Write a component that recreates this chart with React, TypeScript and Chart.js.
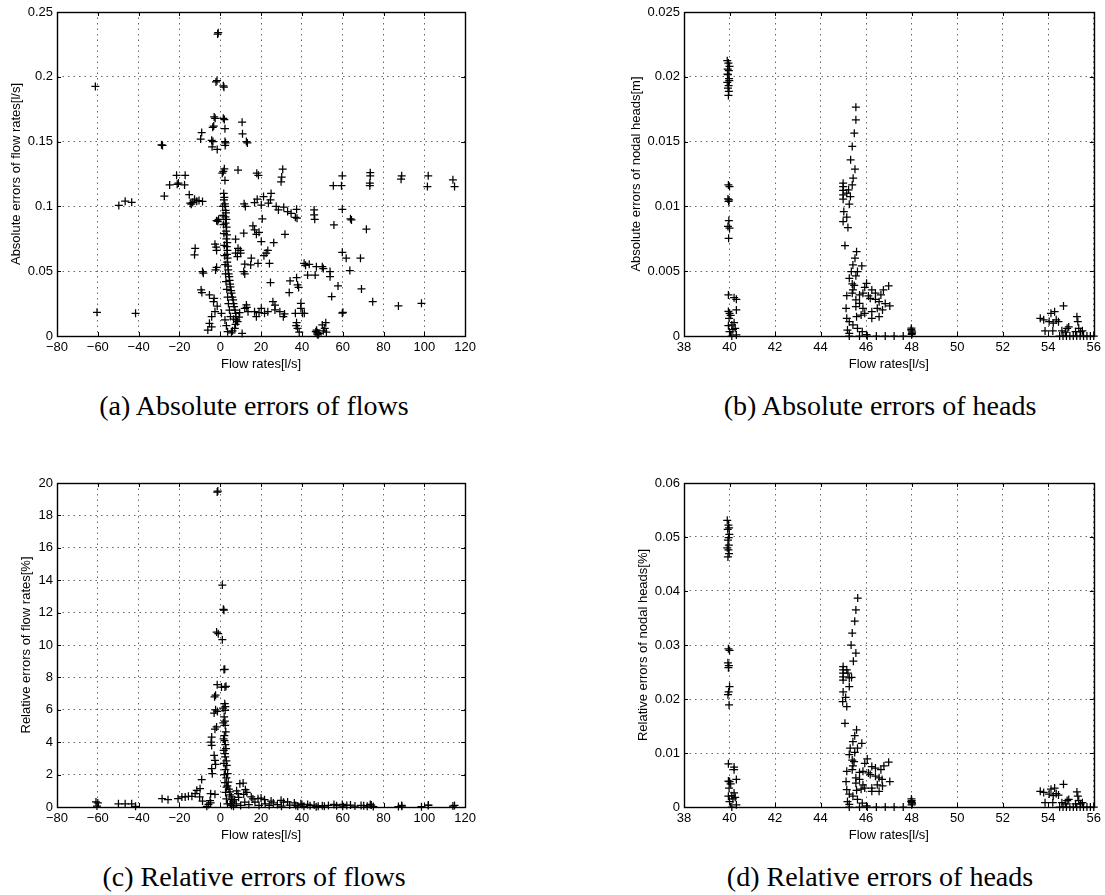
import React, { useEffect, useRef } from "react";
import { Chart, registerables } from "chart.js";

Chart.register(...registerables);

type Pt = [number, number];

// ---------- tick settings ----------
const flowTicksX = { min: -80, max: 120, step: 20 };
const headTicksX = { min: 38, max: 56, step: 2 };
const absFlowTicksY = { min: 0, max: 0.25, step: 0.05 };
const absHeadTicksY = { min: 0, max: 0.025, step: 0.005 };
const relFlowTicksY = { min: 0, max: 20, step: 2 };
const relHeadTicksY = { min: 0, max: 0.06, step: 0.01 };

const xTitle = "Flow rates[l/s]";
const yTitles = [
  "Absolute errors of flow rates[l/s]",
  "Absolute errors of nodal heads[m]",
  "Relative errors of flow rates[%]",
  "Relative errors of nodal heads[%]",
];
const captions = [
  "(a) Absolute errors of flows",
  "(b) Absolute errors of heads",
  "(c) Relative errors of flows",
  "(d) Relative errors of heads",
];

// ---------- (a) absolute errors of flows ----------
const absFlowErr: Pt[] = [
  [-61.2, 0.1926],
  [-1.3, 0.233], [-1.0, 0.234],
  [-2.1, 0.196], [-1.6, 0.197], [1.5, 0.193], [1.8, 0.192],
  [-3.0, 0.169], [-2.5, 0.168], [-3.7, 0.161], [-3.2, 0.162], [-4.2, 0.151], [-3.6, 0.150], [-4.0, 0.146], [-1.5, 0.144],
  [1.5, 0.168], [2.0, 0.167], [2.3, 0.160], [2.3, 0.150], [2.6, 0.149], [2.4, 0.147],
  [-9.1, 0.157], [-9.6, 0.152],
  [10.7, 0.165], [10.9, 0.156], [12.8, 0.150], [13.3, 0.149],
  [-28.8, 0.1475], [-28.3, 0.147],
  [-21.4, 0.124], [-17.2, 0.124], [-21.1, 0.117], [-20.5, 0.118], [-24.8, 0.1166], [-17.5, 0.1166], [-27.4, 0.108],
  [-49.7, 0.1007], [-46.6, 0.104], [-43.4, 0.1032],
  [-15.2, 0.109], [-14.7, 0.1025], [-12.6, 0.1056], [-10.4, 0.1045], [-8.7, 0.1038], [-14.2, 0.1017], [-11.5, 0.104], [-13.5, 0.103],
  [2.0, 0.129], [1.0, 0.1256], [1.5, 0.127], [2.3, 0.120], [1.7, 0.110], [2.0, 0.107], [1.8, 0.105], [2.2, 0.102],
  [2.4, 0.100], [2.6, 0.097], [2.8, 0.095], [2.5, 0.092], [3.0, 0.090], [2.6, 0.087], [3.1, 0.084], [2.9, 0.081],
  [3.3, 0.078], [3.0, 0.075], [3.4, 0.072], [3.2, 0.069], [3.5, 0.066], [3.3, 0.063], [3.6, 0.060], [3.4, 0.057],
  [3.8, 0.054], [3.9, 0.051], [4.1, 0.048], [4.4, 0.0458], [4.6, 0.043], [4.8, 0.040], [5.0, 0.038], [5.3, 0.035],
  [5.5, 0.033], [5.9, 0.030], [6.3, 0.0278], [6.5, 0.025], [6.8, 0.0227], [7.2, 0.020], [7.5, 0.0175], [7.7, 0.015],
  [7.9, 0.0124], [7.5, 0.009], [7.1, 0.0059], [5.5, 0.0025],
  [1.2, 0.1], [1.4, 0.093], [1.6, 0.086], [1.8, 0.079], [2.0, 0.07], [2.2, 0.062], [2.4, 0.055], [2.6, 0.048],
  [2.8, 0.042], [3.2, 0.036], [3.6, 0.03], [4.0, 0.025], [4.5, 0.02], [5.0, 0.015],
  [-1.8, 0.089], [-1.2, 0.0885], [-0.8, 0.090],
  [7.5, 0.0747],
  [8.7, 0.128], [17.9, 0.1256], [18.7, 0.124],
  [30.6, 0.1287], [30.1, 0.1226], [29.8, 0.119],
  [59.8, 0.1236], [59.4, 0.116], [55.4, 0.116],
  [73.5, 0.126], [73.5, 0.1236], [73.3, 0.118], [73.3, 0.116],
  [88.9, 0.1236], [88.6, 0.121],
  [101.9, 0.1236], [101.5, 0.1153],
  [114, 0.1205], [114.8, 0.1153],
  [55.7, 0.0857], [59.8, 0.0978], [63.8, 0.0904], [64.3, 0.0896],
  [71.6, 0.0824],
  [59.8, 0.0646], [61.7, 0.060], [68.7, 0.060], [63.5, 0.0505], [69.2, 0.0363], [57.7, 0.0386], [54.6, 0.0304],
  [74.7, 0.0265], [87.3, 0.0232], [98.6, 0.0252],
  [60.1, 0.0183], [59.8, 0.0176],
  [-60.4, 0.0183], [-41.5, 0.0175],
  [11.7, 0.102], [12.3, 0.100], [16.8, 0.103], [18.1, 0.1056], [20.1, 0.101], [21.2, 0.1076], [23.6, 0.1025],
  [24.9, 0.110], [24.6, 0.105], [27.4, 0.100], [28.5, 0.0973], [31.1, 0.0994], [33, 0.096], [34.7, 0.0947],
  [36.8, 0.0916], [37.4, 0.0978], [37.6, 0.0909],
  [46, 0.0973], [46, 0.0935], [46.3, 0.090],
  [20.6, 0.0904], [16, 0.085], [16.8, 0.0819], [17.7, 0.0785], [19, 0.080], [20.1, 0.0729], [26.2, 0.072], [31.7, 0.0785], [11.5, 0.0793],
  [-12.3, 0.0677], [-12.6, 0.0626], [-2.6, 0.0708], [-1.8, 0.066], [-2.0, 0.0685],
  [8.7, 0.0677], [10, 0.0639], [8.4, 0.0613], [9.8, 0.066], [7.5, 0.064],
  [15.2, 0.060], [18.5, 0.0561], [21.4, 0.062], [23.3, 0.066], [22.5, 0.064], [24.1, 0.056], [14.9, 0.0548], [12, 0.0554],
  [11.5, 0.0497], [12, 0.0479],
  [-8.7, 0.0497], [-8.3, 0.0485], [-9.4, 0.0355], [-9.0, 0.0335], [-5.3, 0.0317],
  [-1.8, 0.053], [-2.3, 0.051],
  [41.1, 0.0561], [41.8, 0.0545], [43.6, 0.0553], [42.8, 0.047], [46.5, 0.047], [47.1, 0.0535], [50, 0.0535], [50.5, 0.052], [53.8, 0.0497], [53.8, 0.0458],
  [34.2, 0.0425], [33.8, 0.0335], [37.4, 0.045], [37.9, 0.0394], [38.4, 0.0375], [24.6, 0.0412],
  [-3, 0.029], [-3.3, 0.0265], [-1.5, 0.023], [-2.6, 0.0188], [-4.2, 0.0149], [-5.3, 0.0098], [-6.1, 0.0046], [-4.2, 0.007],
  [0.6, 0.0175], [2.3, 0.0124], [3.0, 0.008], [3.6, 0.0033], [10.7, 0.002], [6.0, 0.004], [8.5, 0.011], [9.2, 0.0145], [9.5, 0.018], [6.5, 0.013],
  [12, 0.0214], [12.8, 0.024], [13.6, 0.0188], [13, 0.022], [16.8, 0.0188], [17.7, 0.0149], [20.1, 0.0214], [21.7, 0.0175],
  [23.3, 0.0188], [25.8, 0.0265], [26.8, 0.0201], [29.2, 0.0188], [30.9, 0.0149], [31.5, 0.017], [26.8, 0.0239], [19, 0.018],
  [36.8, 0.0175], [37.4, 0.0103], [37.9, 0.0059], [38.7, 0.003], [39.5, 0.0252], [39.5, 0.0214], [40.3, 0.0175], [41.2, 0.0175], [37.2, 0.008],
  [46.8, 0.0033], [47.6, 0.0026], [47.9, 0.0008], [47.2, 0.0045], [48.3, 0.002], [47.5, 0.0015],
  [50, 0.0085], [51.7, 0.0103], [51.2, 0.0059], [52, 0.003], [50.5, 0.004],
];

// ---------- (b) absolute errors of heads ----------
const absHeadErr: Pt[] = [
  [39.9, 0.02124], [39.95, 0.02106], [40.0, 0.0208], [39.92, 0.0206], [39.97, 0.02047], [39.93, 0.02016], [39.98, 0.01985],
  [39.9, 0.01957], [39.96, 0.01931], [39.93, 0.01913], [39.97, 0.01887], [39.95, 0.01856], [39.99, 0.0197], [39.91, 0.0202],
  [39.95, 0.01166], [40.0, 0.01153], [39.93, 0.01058], [39.98, 0.0105], [39.96, 0.01038], [39.97, 0.00891], [39.93, 0.00845], [40.0, 0.00832], [39.96, 0.00754],
  [39.95, 0.00317], [40.2, 0.00296], [40.3, 0.00283], [40.3, 0.00201], [39.95, 0.0019], [40.0, 0.00175], [40.05, 0.0016], [39.98, 0.00136],
  [40.2, 0.00103], [40.1, 0.00085], [40.25, 0.00059], [40.0, 0.00033], [40.3, 0.00008], [40.15, 0.0005], [39.95, 0.0008], [40.1, 0.0],
  [45.55, 0.01766], [45.55, 0.01668], [45.48, 0.01565], [45.39, 0.01463], [45.32, 0.01359], [45.51, 0.01287], [45.43, 0.01218], [45.39, 0.01166], [45.26, 0.01017],
  [44.99, 0.01179], [44.99, 0.01153], [44.99, 0.01123], [44.99, 0.01089], [44.99, 0.01056], [45.23, 0.01128], [45.15, 0.01102], [45.31, 0.01076],
  [45.02, 0.0096], [44.99, 0.00883], [45.15, 0.00917], [45.2, 0.00837], [45.07, 0.00698],
  [45.58, 0.00651], [45.51, 0.006], [45.42, 0.00548], [45.81, 0.00541], [45.62, 0.00497], [45.35, 0.00497], [45.26, 0.00445], [45.55, 0.00464], [45.39, 0.00402], [45.48, 0.0039], [45.42, 0.00355],
  [46.02, 0.00407], [45.94, 0.00376], [46.25, 0.00355], [46.41, 0.0033], [46.65, 0.00317], [46.76, 0.00355], [46.99, 0.00386],
  [45.15, 0.00311], [45.39, 0.0033], [45.71, 0.00317], [45.86, 0.0033], [46.1, 0.00309], [46.18, 0.00291], [46.41, 0.00283], [46.57, 0.00265], [46.84, 0.0025], [47.04, 0.00232],
  [45.55, 0.00278], [45.71, 0.00252], [45.55, 0.00227], [45.86, 0.00214], [45.94, 0.00175], [46.25, 0.00188], [46.49, 0.00214], [46.72, 0.00201], [46.57, 0.00149], [46.25, 0.00136], [45.78, 0.00162], [45.58, 0.00149],
  [45.12, 0.00214], [45.15, 0.00136], [45.26, 0.0011], [45.18, 0.00046], [45.26, 0.0002], [45.42, 0.00085], [45.62, 0.00059], [45.83, 0.00033], [46.02, 0.0001],
  [45.26, 0], [45.71, 0], [46.05, 0], [46.45, 0], [46.84, 0], [47.23, 0], [47.63, 0],
  [47.99, 0.0006], [48.0, 0.0004], [48.01, 0.0002], [47.98, 0.0005], [48.02, 0.0003], [48.0, 0.0001],
  [53.65, 0.00136], [53.8, 0.00125], [54.04, 0.00111], [54.12, 0.00175], [54.28, 0.00188], [54.35, 0.00125], [54.22, 0.001], [54.67, 0.00232],
  [54.83, 0.00059], [54.9, 0.0007], [54.6, 0.0004], [53.86, 0.00039], [54.2, 0.00039], [55.26, 0.00149], [55.3, 0.00111], [55.34, 0.00059],
  [55.42, 0.00033], [55.2, 0.00033], [55.5, 0.0004], [54.45, 0.0011], [54.75, 0.0003],
  [54.5, 0], [54.65, 0], [54.8, 0], [54.95, 0], [55.1, 0], [55.25, 0], [55.4, 0], [55.55, 0], [55.7, 0], [55.85, 0], [56, 0],
];

// ---------- (c) relative errors of flows ----------
const relFlowErr: Pt[] = [
  [-1.5, 19.44], [-1.2, 19.5],
  [1, 13.7], [1.5, 12.2], [1.8, 12.15],
  [-1.8, 10.8], [-1, 10.7], [1, 10.33],
  [1.8, 8.48], [2.2, 8.5],
  [-1.5, 7.55], [-2.3, 6.9], [-2.8, 6.8], [0.6, 7.4], [2.3, 7.4], [2.8, 7.45],
  [-3, 5.8], [-2.3, 6.0], [-1.4, 5.9], [-1.8, 4.94], [-2.6, 4.8],
  [-4.2, 4.32], [-4.5, 4.0], [-4.2, 3.8], [-3, 3.19], [-2.6, 2.88], [-2.3, 2.63],
  [-4.2, 2.37], [-3.9, 2.06],
  [2.2, 6.38], [2.5, 6.2], [2.4, 5.97], [1.9, 5.56], [2.3, 5.3], [2.4, 5.04], [2.7, 4.63], [2.0, 4.4], [2.1, 4.1], [2.5, 3.85],
  [2.8, 3.6], [2.3, 3.3], [2.4, 3.09], [3.0, 2.85], [3.2, 2.57], [2.5, 2.3], [3.6, 2.06], [3.0, 1.8], [3.9, 1.54], [3.5, 1.3],
  [3.1, 1.23], [4.7, 0.93], [4.2, 1.1], [5.5, 0.62], [4.8, 0.75], [6.3, 0.31], [5.8, 0.45], [5.5, 0.1], [1.4, 6.1], [1.5, 5.2],
  [1.6, 4.2], [1.7, 3.5], [1.8, 2.7], [2.0, 2.0], [2.3, 1.5], [2.6, 0.9], [3.0, 0.5], [3.5, 0.2],
  [-9.1, 1.69], [-9.9, 1.13], [-11.5, 1.03], [-12.3, 0.82], [-13.9, 0.66], [-15.6, 0.66], [-17.2, 0.62], [-18.8, 0.62],
  [-20.7, 0.51], [-25.6, 0.45], [-28.5, 0.51], [-8.7, 0.37], [-10.1, 0.62], [-4.7, 0.82], [-5, 0.4], [-2.6, 0.78],
  [-60.9, 0.31], [-60.4, 0.06],
  [-49.9, 0.2], [-46.6, 0.2], [-43.4, 0.2],
  [-6.6, 0.04], [-5.8, 0.16], [-4.7, 0.25],
  [9.6, 1.44], [11.2, 1.48], [12.3, 1.07], [8.7, 0.82], [11.5, 0.78], [7, 0.45], [7.8, 0.2],
  [15.2, 0.62], [18.5, 0.51], [21.7, 0.45], [24.9, 0.37], [29.8, 0.41], [33, 0.31], [36.3, 0.25], [39.5, 0.2], [42.8, 0.16],
  [46, 0.12], [50, 0.08], [55.7, 0.16], [59.8, 0.16], [63.8, 0.12], [70.3, 0.08], [73.5, 0.16], [88.9, 0.1], [101.9, 0.1], [114, 0.06],
  [10, 0.1], [12, 0.3], [14, 0.15], [17, 0.3], [19, 0.1], [20, 0.55], [22, 0.2], [24, 0.1], [26, 0.25], [28, 0.15], [30, 0.05],
  [31, 0.3], [34, 0.12], [37, 0.1], [38, 0.05], [40, 0.15], [41, 0.04], [44, 0.08], [47, 0.02], [48, 0.04], [51, 0.05], [53, 0.1],
  [57, 0.08], [60, 0.05], [62, 0.1], [66, 0.06], [69, 0.1], [72, 0.05], [74, 0.12], [75, 0.03], [87.3, 0.03], [89, 0.05],
  [98.6, 0.02], [102, 0.12], [114.8, 0.1], [-41.5, 0.04], [-60, 0.25], [9, 0.6], [8, 1.0], [13, 0.9], [16, 0.5], [5, 0.2], [6.5, 0.05],
];

// ---------- (d) relative errors of heads ----------
const relHeadErr: Pt[] = [
  [39.9, 0.0531], [39.95, 0.0522], [39.98, 0.0517], [39.92, 0.0514], [39.96, 0.0499], [39.93, 0.0494], [39.97, 0.0485],
  [39.9, 0.048], [39.95, 0.0476], [39.98, 0.0469], [39.93, 0.0463], [39.99, 0.0505],
  [39.95, 0.0293], [40.0, 0.029], [39.93, 0.0267], [39.97, 0.0262], [39.95, 0.0258], [40.0, 0.0223], [39.96, 0.0213], [39.93, 0.0208], [39.98, 0.0189],
  [39.95, 0.008], [40.2, 0.0074], [40.2, 0.0069], [40.3, 0.0051], [39.95, 0.0048], [40.0, 0.0047], [40.05, 0.0043], [39.98, 0.0035],
  [40.2, 0.0026], [40.1, 0.0021], [40.25, 0.0018], [40.0, 0.001], [40.3, 0.0004], [40.15, 0.0015], [39.95, 0.002], [40.1, 0.0],
  [45.63, 0.0387], [45.55, 0.0365], [45.5, 0.0344], [45.39, 0.0322], [45.34, 0.03], [45.55, 0.0285], [45.44, 0.027], [45.36, 0.024], [45.26, 0.0223],
  [44.99, 0.026], [44.99, 0.0254], [44.99, 0.0248], [44.99, 0.0241], [44.99, 0.0235], [45.2, 0.0248], [45.26, 0.0239], [45.15, 0.0254],
  [44.99, 0.0213], [44.97, 0.0195], [45.1, 0.0203], [45.15, 0.0186], [45.07, 0.0155],
  [45.58, 0.0143], [45.5, 0.0132], [45.42, 0.0121], [45.81, 0.0118], [45.62, 0.0109], [45.3, 0.0109], [45.26, 0.0097], [45.5, 0.0101], [45.39, 0.0087], [45.47, 0.0084], [45.42, 0.0076],
  [46.05, 0.0089], [45.94, 0.0081], [46.25, 0.0075], [46.41, 0.0072], [46.65, 0.0069], [46.78, 0.0076], [46.99, 0.0083],
  [45.15, 0.0066], [45.39, 0.0069], [45.71, 0.0064], [45.86, 0.0066], [46.1, 0.0063], [46.18, 0.006], [46.41, 0.0057], [46.57, 0.0054], [46.7, 0.0051], [47.04, 0.0047],
  [45.55, 0.0054], [45.71, 0.0051], [45.55, 0.0044], [45.86, 0.0041], [45.94, 0.0035], [46.25, 0.0035], [46.49, 0.0041], [46.72, 0.0039], [46.57, 0.0029], [46.25, 0.0029], [45.78, 0.0033], [45.58, 0.0031],
  [45.12, 0.0047], [45.15, 0.0032], [45.26, 0.0024], [45.18, 0.001], [45.26, 0.0005], [45.42, 0.002], [45.62, 0.0014], [45.83, 0.0007], [46.02, 0.0002],
  [45.26, 0], [45.71, 0], [46.05, 0], [46.45, 0], [46.84, 0], [47.23, 0], [47.63, 0],
  [47.99, 0.0015], [48.0, 0.0012], [48.01, 0.0008], [47.98, 0.001], [48.02, 0.0006], [48.0, 0.0004],
  [53.65, 0.0029], [53.8, 0.0027], [54.04, 0.0024], [54.12, 0.0033], [54.28, 0.0035], [54.35, 0.0025], [54.22, 0.0021], [54.67, 0.0042],
  [54.83, 0.0012], [54.9, 0.0014], [54.6, 0.0008], [53.86, 0.0008], [54.2, 0.0008], [55.26, 0.0028], [55.3, 0.002], [55.34, 0.0012],
  [55.42, 0.0006], [55.2, 0.0006], [55.5, 0.0008], [54.45, 0.0022], [54.75, 0.0006],
  [54.5, 0], [54.65, 0], [54.8, 0], [54.95, 0], [55.1, 0], [55.25, 0], [55.4, 0], [55.55, 0], [55.7, 0], [55.85, 0], [56, 0],
];

// ---------- helpers ----------
const fmtTick = (v: number | string) => {
  const n = typeof v === "number" ? v : parseFloat(v);
  return String(parseFloat(n.toPrecision(6))).replace("-", "\u2212");
};

const axisFont = { family: "'Liberation Sans', Arial, Helvetica, sans-serif", size: 13 };

const matlabFrame = {
  id: "matlabFrame",
  beforeDatasetsDraw(chart: any) {
    const { ctx, chartArea: a, scales } = chart;
    const xs = scales.x;
    const ys = scales.y;
    const L = 4;
    ctx.save();
    ctx.strokeStyle = "#000";
    ctx.lineWidth = 1;
    ctx.beginPath();
    xs.ticks.forEach((t: any) => {
      const px = Math.round(xs.getPixelForValue(t.value)) + 0.5;
      ctx.moveTo(px, a.bottom);
      ctx.lineTo(px, a.bottom - L);
      ctx.moveTo(px, a.top);
      ctx.lineTo(px, a.top + L);
    });
    ys.ticks.forEach((t: any) => {
      const py = Math.round(ys.getPixelForValue(t.value)) + 0.5;
      ctx.moveTo(a.left, py);
      ctx.lineTo(a.left + L, py);
      ctx.moveTo(a.right, py);
      ctx.lineTo(a.right - L, py);
    });
    ctx.stroke();
    ctx.lineWidth = 1.4;
    ctx.strokeRect(
      Math.round(a.left) + 0.5,
      Math.round(a.top) + 0.5,
      Math.round(a.right - a.left),
      Math.round(a.bottom - a.top)
    );
    ctx.restore();
  },
};

type PanelProps = {
  points: Pt[];
  xt: { min: number; max: number; step: number };
  yt: { min: number; max: number; step: number };
  yTitle: string;
  yTitlePad: number;
  left: number;
  top: number;
  width: number;
  height: number;
  yAxisWidth: number;
};

function Panel(p: PanelProps) {
  const ref = useRef<HTMLCanvasElement | null>(null);
  useEffect(() => {
    if (!ref.current) return;
    const chart = new Chart(ref.current, {
      type: "scatter",
      data: {
        datasets: [
          {
            data: p.points.map(([x, y]) => ({ x, y })),
            pointStyle: "cross",
            pointRadius: 4,
            pointHoverRadius: 4,
            pointBorderWidth: 1.25,
            borderColor: "#000",
            backgroundColor: "#000",
            clip: false as any,
          },
        ],
      },
      options: {
        responsive: false,
        animation: false,
        events: [],
        layout: { padding: { left: 0, top: 12, right: 11, bottom: 0 } },
        plugins: { legend: { display: false }, tooltip: { enabled: false } },
        scales: {
          x: {
            type: "linear",
            min: p.xt.min,
            max: p.xt.max,
            afterFit: (s: any) => {
              s.height = 44;
            },
            ticks: {
              stepSize: p.xt.step,
              autoSkip: false,
              maxRotation: 0,
              padding: 4,
              color: "#000",
              font: axisFont,
              callback: (v: any) => fmtTick(v),
            },
            grid: { color: "rgba(0,0,0,0.6)", lineWidth: 1, drawTicks: false },
            border: { display: false, dash: [1.5, 4] },
            title: {
              display: true,
              text: xTitle,
              color: "#000",
              font: axisFont,
              padding: { top: 0, bottom: 8 },
            },
          },
          y: {
            type: "linear",
            min: p.yt.min,
            max: p.yt.max,
            afterFit: (s: any) => {
              s.width = p.yAxisWidth;
            },
            ticks: {
              stepSize: p.yt.step,
              autoSkip: false,
              padding: 4,
              color: "#000",
              font: axisFont,
              callback: (v: any) => fmtTick(v),
            },
            grid: { color: "rgba(0,0,0,0.6)", lineWidth: 1, drawTicks: false },
            border: { display: false, dash: [1.5, 4] },
            title: {
              display: true,
              text: p.yTitle,
              color: "#000",
              font: axisFont,
              padding: { top: p.yTitlePad, bottom: 0 },
            },
          },
        },
      },
      plugins: [matlabFrame],
    } as any);
    return () => chart.destroy();
  }, []);
  return (
    <canvas
      ref={ref}
      width={p.width}
      height={p.height}
      style={{ position: "absolute", left: p.left, top: p.top, width: p.width, height: p.height }}
    />
  );
}

const captionStyle = (cx: number, top: number): React.CSSProperties => ({
  position: "absolute",
  left: cx - 250,
  top,
  width: 500,
  textAlign: "center",
  fontFamily: "'Liberation Serif', 'Times New Roman', serif",
  fontSize: 28,
  lineHeight: "28px",
  color: "#000",
  whiteSpace: "nowrap",
});

export default function App() {
  return (
    <div
      style={{
        position: "absolute",
        left: 0,
        top: 0,
        width: 1105,
        height: 895,
        background: "#fff",
        overflow: "hidden",
      }}
    >
      <Panel points={absFlowErr} xt={flowTicksX} yt={absFlowTicksY} yTitle={yTitles[0]} yTitlePad={9}
        left={0} top={0} width={480} height={380} yAxisWidth={57} />
      <Panel points={absHeadErr} xt={headTicksX} yt={absHeadTicksY} yTitle={yTitles[1]} yTitlePad={29}
        left={600} top={0} width={505} height={380} yAxisWidth={84} />
      <Panel points={relFlowErr} xt={flowTicksX} yt={relFlowTicksY} yTitle={yTitles[2]} yTitlePad={19}
        left={0} top={471} width={480} height={380} yAxisWidth={57} />
      <Panel points={relHeadErr} xt={headTicksX} yt={relHeadTicksY} yTitle={yTitles[3]} yTitlePad={36}
        left={600} top={471} width={505} height={380} yAxisWidth={84} />
      <div style={captionStyle(254, 392)}>{captions[0]}</div>
      <div style={captionStyle(880, 392)}>{captions[1]}</div>
      <div style={captionStyle(254, 863)}>{captions[2]}</div>
      <div style={captionStyle(880, 863)}>{captions[3]}</div>
    </div>
  );
}
